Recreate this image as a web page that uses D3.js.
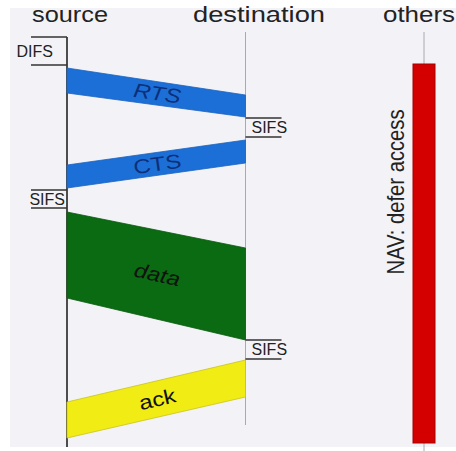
<!DOCTYPE html>
<html>
<head>
<meta charset="utf-8">
<script src="https://cdn.jsdelivr.net/npm/d3@7"></script>
<style>
  body { margin: 0; background: #fff; }
  svg { display: block; font-family: "Liberation Sans", Arial, sans-serif; }
</style>
</head>
<body>
<div id="chart"></div>
<script>
// stations across the top, time runs downwards
var stations = ["source", "destination", "others"];

// lifelines: [station, start, end] in time units
var lifelines = [
    ["source", 0, 410],
    ["destination", -5, 388],
    ["others", -5, 414]
];

// frames sent between stations: start/end times at sender and receiver
var frameNames = ["RTS", "CTS", "data", "ack"];
var frameFrom = ["source", "destination", "source", "destination"];
var frameTo = ["destination", "source", "destination", "source"];
var frameSend = [[31, 56], [103, 126], [175, 261], [323, 360]];
var frameRecv = [[58, 80], [128, 151], [211, 303], [365, 401]];

// inter-frame spaces
var gapNames = ["DIFS", "SIFS", "SIFS", "SIFS"];
var gapStation = ["source", "destination", "source", "destination"];
var gapTimes = [[0, 28], [81, 100], [153, 171], [303, 322]];

// network allocation vector at the other stations
var navLabel = "NAV: defer access";
var navStation = "others";
var navTimes = [27, 406];
var navLabelTime = 155;

var width = 456, height = 451;
var frameColor = {RTS: "#1c6fd6", CTS: "#1c6fd6", data: "#0b6b12", ack: "#f0ec14"};
var frameStroke = {RTS: "#1a63c0", CTS: "#1a63c0", data: "#0a5a0f", ack: "#c9c41a"};
var frameItalic = {RTS: true, CTS: false, data: true, ack: false};
var gapSide = {source: -1, destination: 1};
var gapPad = [14, 6, 2, 6];
var headerLen = {source: 76, destination: 132, others: 72};
var headerX = {source: 32, destination: 193, others: 383};

var x = d3.scalePoint().domain(stations).range([67, 424]);
var y = d3.scaleLinear().domain([0, 410]).range([37, 447]);

var svg = d3.select("#chart").append("svg")
    .attr("width", width)
    .attr("height", height)
    .attr("viewBox", [0, 0, width, height]);

svg.append("rect")
    .attr("x", 10).attr("y", 8)
    .attr("width", width - 10).attr("height", 439)
    .attr("fill", "#f3f2f6");

// headers
svg.append("g")
    .selectAll("text")
    .data(stations)
    .join("text")
    .attr("x", d => headerX[d])
    .attr("y", 22)
    .attr("font-size", 22)
    .attr("fill", "#222")
    .attr("textLength", d => headerLen[d])
    .attr("lengthAdjust", "spacingAndGlyphs")
    .text(d => d);

// lifelines
svg.append("g")
    .selectAll("line")
    .data(lifelines)
    .join("line")
    .attr("x1", d => x(d[0]))
    .attr("x2", d => x(d[0]))
    .attr("y1", d => y(d[1]))
    .attr("y2", d => y(d[2]))
    .attr("stroke", d => d[0] == "source" ? "#222" : "#aaa")
    .attr("stroke-width", d => d[0] == "source" ? 1.6 : 1);

// frames
var frames = frameNames.map((name, i) => ({
    name: name,
    x0: x(frameFrom[i]), x1: x(frameTo[i]),
    s: frameSend[i], r: frameRecv[i]
}));

svg.append("g")
    .selectAll("path")
    .data(frames)
    .join("path")
    .attr("d", d => d3.line()([
        [d.x0, y(d.s[0])], [d.x1, y(d.r[0])],
        [d.x1, y(d.r[1])], [d.x0, y(d.s[1])]
    ]) + "Z")
    .attr("fill", d => frameColor[d.name])
    .attr("stroke", d => frameStroke[d.name])
    .attr("stroke-width", 0.8);

svg.append("g")
    .selectAll("text")
    .data(frames)
    .join("text")
    .attr("transform", d => {
        var ya = y((d.s[0] + d.s[1]) / 2), yb = y((d.r[0] + d.r[1]) / 2);
        var cx = (d.x0 + d.x1) / 2 + 1, cy = (ya + yb) / 2;
        // always read left to right
        var dx = d.x1 - d.x0, dy = yb - ya;
        if (dx < 0) { dx = -dx; dy = -dy; }
        var ang = Math.atan2(dy, dx) * 180 / Math.PI;
        return `translate(${cx},${cy}) rotate(${ang}) scale(1.2,1)`;
    })
    .attr("text-anchor", "middle")
    .attr("dy", "0.35em")
    .attr("font-size", 20)
    .attr("font-style", d => frameItalic[d.name] ? "italic" : "normal")
    .attr("fill", d => d.name == "RTS" || d.name == "CTS" ? "#0d2f7a" : "#111")
    .text(d => d.name);

// inter-frame space brackets
var gaps = gapNames.map((name, i) => ({
    name: name, st: gapStation[i], t: gapTimes[i], pad: gapPad[i]
}));

var gap = svg.append("g")
    .selectAll("g")
    .data(gaps)
    .join("g");

gap.selectAll("line")
    .data(d => d.t.map(t => ({st: d.st, t: t})))
    .join("line")
    .attr("x1", d => x(d.st))
    .attr("x2", d => x(d.st) + gapSide[d.st] * 36)
    .attr("y1", d => y(d.t))
    .attr("y2", d => y(d.t))
    .attr("stroke", "#333")
    .attr("stroke-width", 1.6);

gap.append("text")
    .attr("x", d => x(d.st) + gapSide[d.st] * d.pad)
    .attr("y", d => (y(d.t[0]) + y(d.t[1])) / 2)
    .attr("dy", "0.36em")
    .attr("text-anchor", d => gapSide[d.st] < 0 ? "end" : "start")
    .attr("font-size", 16)
    .attr("fill", "#222")
    .text(d => d.name);

// NAV bar
svg.append("rect")
    .attr("x", x(navStation) - 11)
    .attr("width", 22)
    .attr("y", y(navTimes[0]))
    .attr("height", y(navTimes[1]) - y(navTimes[0]))
    .attr("fill", "#d40000")
    .attr("stroke", "#a30000")
    .attr("stroke-width", 1);

svg.append("text")
    .attr("transform", `translate(${x(navStation) - 20},${y(navLabelTime)}) rotate(-90)`)
    .attr("text-anchor", "middle")
    .attr("font-size", 24)
    .attr("fill", "#222")
    .attr("textLength", 165)
    .attr("lengthAdjust", "spacingAndGlyphs")
    .text(navLabel);
</script>
</body>
</html>
